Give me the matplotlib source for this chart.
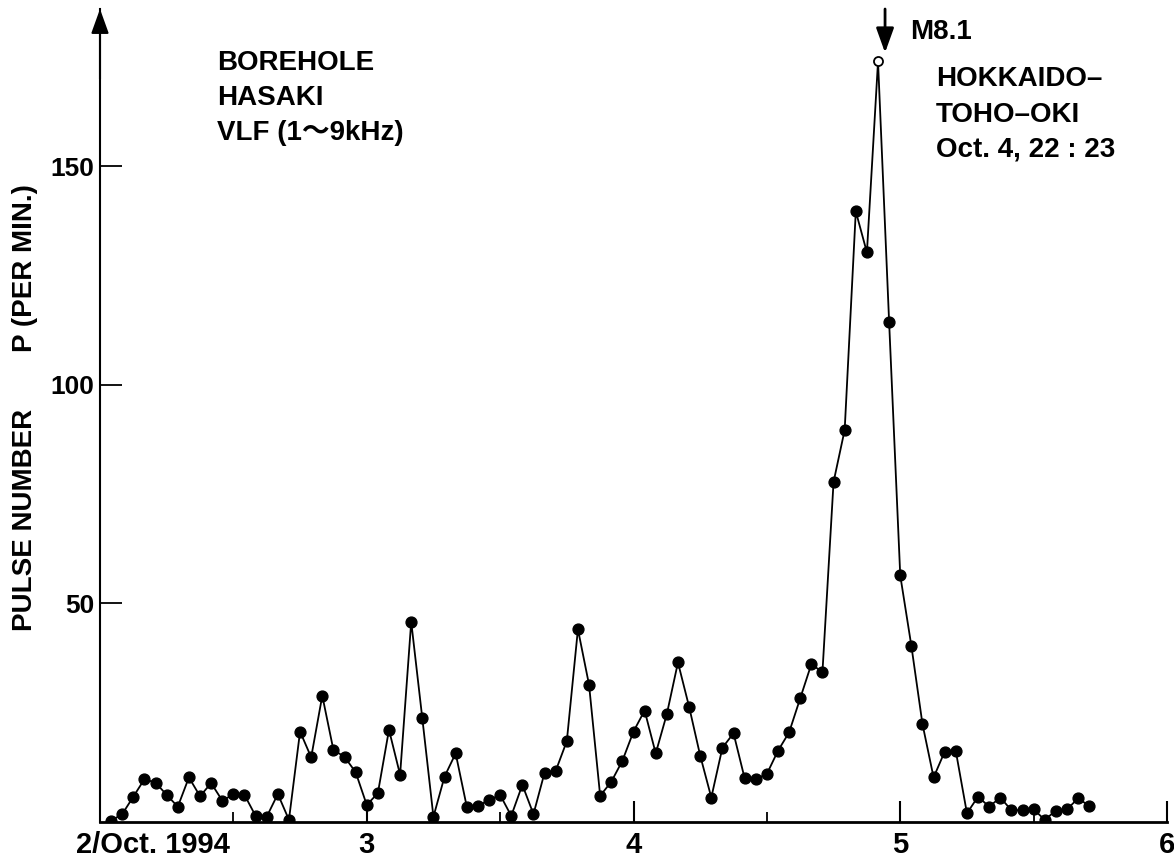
import matplotlib
matplotlib.use('Agg')
import matplotlib.pyplot as plt
import numpy as np

plt.rcParams['font.family'] = ['Liberation Sans', 'Noto Sans CJK JP', 'DejaVu Sans']
plt.rcParams['font.weight'] = 'bold'

# hourly pulse counts, Oct 2 01h .. Oct 5 17h (1994)
hours = list(range(1, 90))
pulses = [0.3, 1.8, 5.8, 9.8, 9.0, 6.2, 3.5, 10.2, 5.9, 8.9,
          4.9, 6.3, 6.2, 1.4, 1.2, 6.4, 0.5, 20.7, 14.8, 28.9,
          16.5, 14.9, 11.4, 3.9, 6.6, 21.1, 10.8, 45.8, 23.7, 1.2,
          10.4, 15.7, 3.5, 3.7, 5.0, 6.2, 1.4, 8.5, 1.8, 11.3,
          11.7, 18.5, 44.1, 31.4, 6.0, 9.2, 14.0, 20.7, 25.5, 15.7,
          24.7, 36.5, 26.4, 15.2, 5.6, 17.0, 20.3, 10.0, 9.8, 11.0,
          16.3, 20.5, 28.3, 36.1, 34.3, 77.8, 89.7, 139.7, 130.3, 174.0,
          114.3, 56.4, 40.3, 22.4, 10.2, 16.1, 16.2, 2.0, 5.8, 3.5,
          5.6, 2.7, 2.7, 2.9, 0.5, 2.6, 2.9, 5.4, 3.7]
peak_hour = 70

x_ticks = [3, 4, 5, 6]
x_minor = [2.5, 3.5, 4.5, 5.5]
y_ticks = [50, 100, 150]

days = 2 + np.array(hours) / 24.0
vals = np.array(pulses)

fig = plt.figure(figsize=(11.74, 8.65), dpi=100)
ax = fig.add_axes([100 / 1174, 43 / 865, 1067 / 1174, 813 / 865])
ax.set_xlim(2, 6)
ax.set_ylim(0, 186)

ax.plot(days, vals, color='black', lw=1.3, zorder=2)
mask = np.array(hours) != peak_hour
ax.plot(days[mask], vals[mask], 'o', color='black', ms=7.8, zorder=3)
ax.plot(days[~mask], vals[~mask], 'o', mfc='white', mec='black', mew=1.3, ms=6.5, zorder=3)

for s in ['top', 'right']:
    ax.spines[s].set_visible(False)
ax.spines['left'].set_linewidth(1.5)
ax.spines['bottom'].set_linewidth(2)

# arrow head on y axis
ax.annotate('', xy=(2, 186), xytext=(2, 170), annotation_clip=False,
            arrowprops=dict(arrowstyle='-|>,head_length=0.75,head_width=0.27',
                            color='black', lw=1.5, mutation_scale=20, shrinkA=0, shrinkB=0))

ax.set_yticks(y_ticks)
ax.set_yticklabels([str(v) for v in y_ticks])
ax.tick_params(axis='y', direction='in', length=16, width=1.3, pad=4, labelsize=19)
ax.set_xticks(x_ticks)
ax.set_xticklabels([str(v) for v in x_ticks])
ax.set_xticks(x_minor, minor=True)
ax.tick_params(axis='x', which='major', direction='in', length=15, width=1.5, pad=6.5, labelsize=21)
ax.tick_params(axis='x', which='minor', direction='in', length=7.5, width=1.3)
ax.annotate('2/Oct. 1994', xy=(2, 0), xytext=(-17, -6.5), textcoords='offset points',
            ha='left', va='top', fontsize=21, fontweight='bold', annotation_clip=False)

fig.text(25 / 1174, 1 - 520 / 865, 'PULSE NUMBER', rotation=90, ha='center', va='center',
         fontsize=20, fontweight='bold')
fig.text(25 / 1174, 1 - 268 / 865, 'P (PER MIN.)', rotation=90, ha='center', va='center',
         fontsize=20, fontweight='bold')

for txt, yb in [('BOREHOLE', 172.1), ('HASAKI', 164.1), ('VLF (1～9kHz)', 156.1)]:
    ax.text(2.44, yb, txt, ha='left', va='baseline', fontsize=20, fontweight='bold')

ax.text(5.037, 179.2, 'M8.1', ha='left', va='baseline', fontsize=20, fontweight='bold')
for txt, yb in [('HOKKAIDO–', 168.4), ('TOHO–OKI', 160.2), ('Oct. 4, 22 : 23', 152.2)]:
    ax.text(5.134, yb, txt, ha='left', va='baseline', fontsize=20, fontweight='bold')

ax.annotate('', xy=(4.943, 176), xytext=(4.943, 186), annotation_clip=False,
            arrowprops=dict(arrowstyle='-|>,head_length=0.75,head_width=0.27',
                            color='black', lw=2, mutation_scale=20, shrinkA=0, shrinkB=0))

fig.savefig('out.png', dpi=100)
